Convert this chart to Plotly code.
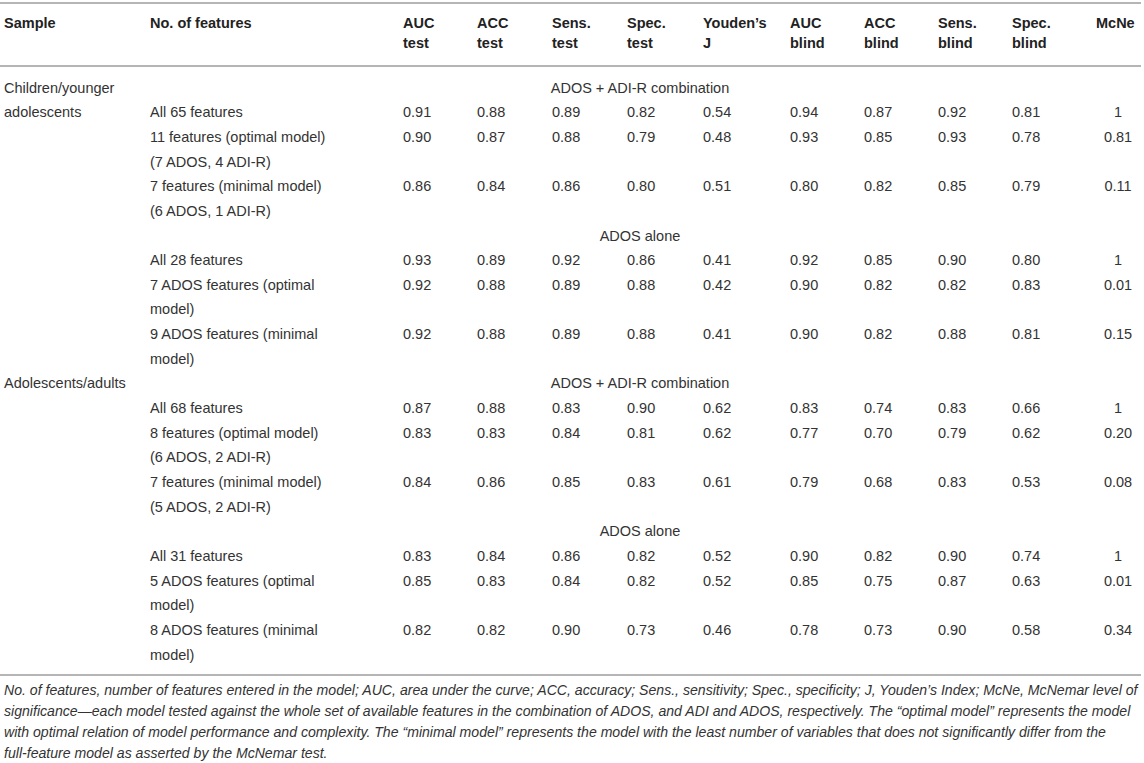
import plotly.graph_objects as go

# ---- table content ----
headers = [
    ["Sample"], ["No. of features"],
    ["AUC", "test"], ["ACC", "test"], ["Sens.", "test"], ["Spec.", "test"],
    ["Youden’s", "J"], ["AUC", "blind"], ["ACC", "blind"], ["Sens.", "blind"],
    ["Spec.", "blind"], ["McNe"],
]

samples = ["Children/younger\nadolescents", "Adolescents/adults"]
sections = ["ADOS + ADI-R combination", "ADOS alone"]
ROWS_PER_SECTION = 3

features = [
    "All 65 features",
    "11 features (optimal model)\n(7 ADOS, 4 ADI-R)",
    "7 features (minimal model)\n(6 ADOS, 1 ADI-R)",
    "All 28 features",
    "7 ADOS features (optimal\nmodel)",
    "9 ADOS features (minimal\nmodel)",
    "All 68 features",
    "8 features (optimal model)\n(6 ADOS, 2 ADI-R)",
    "7 features (minimal model)\n(5 ADOS, 2 ADI-R)",
    "All 31 features",
    "5 ADOS features (optimal\nmodel)",
    "8 ADOS features (minimal\nmodel)",
]

auc_test = [0.91, 0.90, 0.86, 0.93, 0.92, 0.92, 0.87, 0.83, 0.84, 0.83, 0.85, 0.82]
acc_test = [0.88, 0.87, 0.84, 0.89, 0.88, 0.88, 0.88, 0.83, 0.86, 0.84, 0.83, 0.82]
sens_test = [0.89, 0.88, 0.86, 0.92, 0.89, 0.89, 0.83, 0.84, 0.85, 0.86, 0.84, 0.90]
spec_test = [0.82, 0.79, 0.80, 0.86, 0.88, 0.88, 0.90, 0.81, 0.83, 0.82, 0.82, 0.73]
youden_j = [0.54, 0.48, 0.51, 0.41, 0.42, 0.41, 0.62, 0.62, 0.61, 0.52, 0.52, 0.46]
auc_blind = [0.94, 0.93, 0.80, 0.92, 0.90, 0.90, 0.83, 0.77, 0.79, 0.90, 0.85, 0.78]
acc_blind = [0.87, 0.85, 0.82, 0.85, 0.82, 0.82, 0.74, 0.70, 0.68, 0.82, 0.75, 0.73]
sens_blind = [0.92, 0.93, 0.85, 0.90, 0.82, 0.88, 0.83, 0.79, 0.83, 0.90, 0.87, 0.90]
spec_blind = [0.81, 0.78, 0.79, 0.80, 0.83, 0.81, 0.66, 0.62, 0.53, 0.74, 0.63, 0.58]
mcne = [1, 0.81, 0.11, 1, 0.01, 0.15, 1, 0.20, 0.08, 1, 0.01, 0.34]

footnote = [
    "No. of features, number of features entered in the model; AUC, area under the curve; ACC, accuracy; Sens., sensitivity; Spec., specificity; J, Youden’s Index; McNe, McNemar level of",
    "significance—each model tested against the whole set of available features in the combination of ADOS, and ADI and ADOS, respectively. The “optimal model” represents the model",
    "with optimal relation of model performance and complexity. The “minimal model” represents the model with the least number of variables that does not significantly differ from the",
    "full-feature model as asserted by the McNemar test.",
]

metrics = [auc_test, acc_test, sens_test, spec_test, youden_j,
           auc_blind, acc_blind, sens_blind, spec_blind]

# ---- layout constants (pixels) ----
W, H = 1144, 763
FONT = "Liberation Sans, Arial, Helvetica, sans-serif"
TEXT_COLOR = "#333333"
RULE_COLOR = "#b5b5b5"
FS = 14.5
HEADER_Y = [24, 44]
ROW0_Y = 89
LINE_H = 24.65
COL_X = [4, 150, 403, 477, 552, 627, 703, 790, 864, 938, 1012, 1096]
MCNE_X = 1118
SECTION_X = 640
FOOT_Y0 = 691
FOOT_LINE_H = 21


def slot_y(s):
    return ROW0_Y + s * LINE_H


def fmt(v):
    return "1" if v == 1 else f"{v:.2f}"


left_x, left_y, left_t = [], [], []
mid_x, mid_y, mid_t = [], [], []

slot = 0
row = 0
for sample in samples:
    for k, line in enumerate(sample.split("\n")):
        left_x.append(COL_X[0])
        left_y.append(slot_y(slot + k))
        left_t.append(line)
    for section in sections:
        mid_x.append(SECTION_X)
        mid_y.append(slot_y(slot))
        mid_t.append(section)
        slot += 1
        for _ in range(ROWS_PER_SECTION):
            lines = features[row].split("\n")
            for k, line in enumerate(lines):
                left_x.append(COL_X[1])
                left_y.append(slot_y(slot + k))
                left_t.append(line)
            for c, col in enumerate(metrics):
                left_x.append(COL_X[2 + c])
                left_y.append(slot_y(slot))
                left_t.append(fmt(col[row]))
            mid_x.append(MCNE_X)
            mid_y.append(slot_y(slot))
            mid_t.append(fmt(mcne[row]))
            slot += len(lines)
            row += 1

head_x, head_y, head_t = [], [], []
for c, h in enumerate(headers):
    for k, line in enumerate(h):
        head_x.append(COL_X[c])
        head_y.append(HEADER_Y[k])
        head_t.append("<b>" + line + "</b>")

fig = go.Figure()
fig.add_trace(go.Scatter(
    x=head_x, y=head_y, text=head_t, mode="text", textposition="middle right",
    textfont=dict(family=FONT, size=FS, color="#222222"), hoverinfo="skip"))
fig.add_trace(go.Scatter(
    x=left_x, y=left_y, text=left_t, mode="text", textposition="middle right",
    textfont=dict(family=FONT, size=FS, color=TEXT_COLOR), hoverinfo="skip"))
fig.add_trace(go.Scatter(
    x=mid_x, y=mid_y, text=mid_t, mode="text", textposition="middle center",
    textfont=dict(family=FONT, size=FS, color=TEXT_COLOR), hoverinfo="skip"))
fig.add_trace(go.Scatter(
    x=[COL_X[0]] * len(footnote),
    y=[FOOT_Y0 + i * FOOT_LINE_H for i in range(len(footnote))],
    text=["<i>" + t + "</i>" for t in footnote], mode="text", textposition="middle right",
    textfont=dict(family=FONT, size=14.1, color=TEXT_COLOR),
    hoverinfo="skip"))

for y in [3, 66, 675]:
    fig.add_shape(type="line", x0=0, x1=1141, y0=y, y1=y, xref="x", yref="y",
                  line=dict(color=RULE_COLOR, width=2))

fig.update_layout(
    width=W, height=H, autosize=False,
    margin=dict(l=0, r=0, t=0, b=0),
    paper_bgcolor="white", plot_bgcolor="white",
    showlegend=False,
    xaxis=dict(range=[0, W], visible=False, fixedrange=True),
    yaxis=dict(range=[H, 0], visible=False, fixedrange=True),
)

fig.write_html("out.html", config={"displayModeBar": False},
               post_script="document.body.style.margin = '0px';")
